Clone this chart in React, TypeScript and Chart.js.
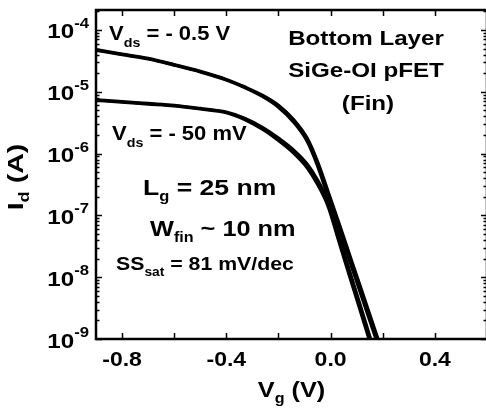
import { useEffect, useRef } from "react";
import { Chart, registerables } from "chart.js";

Chart.register(...registerables);

// ---- data ----
const gateVoltage = [-0.9, -0.8, -0.7, -0.6, -0.5, -0.4, -0.33, -0.26, -0.2, -0.14, -0.09, -0.05, -0.01, 0.03, 0.07, 0.11, 0.15, 0.19];
// Vds = -0.5 V, two sweeps
const idSatSweep1 = [4.68e-5, 3.98e-5, 3.39e-5, 2.69e-5, 2.09e-5, 1.55e-5, 1.17e-5, 8.32e-6, 5.62e-6, 3.16e-6, 1.58e-6, 6.31e-7, 2.0e-7, 6.31e-8, 2.0e-8, 6.31e-9, 2.0e-9, 6.31e-10];
const idSatSweep2 = [4.79e-5, 4.07e-5, 3.47e-5, 2.75e-5, 2.14e-5, 1.58e-5, 1.2e-5, 8.71e-6, 6.03e-6, 3.47e-6, 1.78e-6, 7.41e-7, 2.45e-7, 7.94e-8, 2.51e-8, 7.94e-9, 2.51e-9, 7.94e-10];
// Vds = -50 mV, two sweeps
const idLinSweep1 = [7.24e-6, 6.76e-6, 6.31e-6, 5.89e-6, 5.25e-6, 4.57e-6, 3.55e-6, 2.45e-6, 1.62e-6, 1.0e-6, 5.89e-7, 3.16e-7, 1.41e-7, 3.98e-8, 1.12e-8, 3.24e-9, 9.12e-10, 2.57e-10];
const idLinSweep2 = [7.41e-6, 6.92e-6, 6.46e-6, 6.03e-6, 5.37e-6, 4.68e-6, 3.72e-6, 2.63e-6, 1.78e-6, 1.12e-6, 6.76e-7, 3.72e-7, 1.7e-7, 4.9e-8, 1.38e-8, 3.98e-9, 1.12e-9, 3.16e-10];

const xTickValues = [-0.8, -0.6, -0.4, -0.2, 0.0, 0.2, 0.4];
const xLabelValues = [-0.8, -0.4, 0.0, 0.4];
const yDecadeExponents = [-9, -8, -7, -6, -5, -4];
const X_MIN = -0.9;
const X_MAX = 0.6;
const Y_MIN = 1e-9;
const Y_MAX = 2.1e-4;

const FONT = "'Liberation Sans', Arial, Helvetica, sans-serif";
const SX = 1.15;

type Seg = { t: string; size: number; dy: number };

function drawRich(
  ctx: CanvasRenderingContext2D,
  segs: Seg[],
  x: number,
  y: number,
  align: "left" | "center" | "right",
  sx: number = SX
) {
  let w = 0;
  const widths: number[] = [];
  for (const s of segs) {
    ctx.font = `bold ${s.size}px ${FONT}`;
    const m = ctx.measureText(s.t).width;
    widths.push(m);
    w += m;
  }
  const total = w * sx;
  const start = align === "left" ? x : align === "center" ? x - total / 2 : x - total;
  ctx.save();
  ctx.translate(start, y);
  ctx.scale(sx, 1);
  ctx.fillStyle = "#000";
  ctx.textAlign = "left";
  ctx.textBaseline = "alphabetic";
  let cx = 0;
  segs.forEach((s, i) => {
    ctx.font = `bold ${s.size}px ${FONT}`;
    ctx.fillText(s.t, cx, s.dy);
    cx += widths[i];
  });
  ctx.restore();
}

const framePlugin = {
  id: "framePlugin",
  afterDatasetsDraw(chart: any) {
    const ctx: CanvasRenderingContext2D = chart.ctx;
    const { left, right, top, bottom } = chart.chartArea;
    const xs = chart.scales.x;
    const ys = chart.scales.y;
    ctx.save();
    ctx.strokeStyle = "#000";
    ctx.lineCap = "butt";

    // ticks
    ctx.lineWidth = 1.5;
    for (const v of xTickValues) {
      const px = Math.round(xs.getPixelForValue(v)) + 0.5;
      ctx.beginPath();
      ctx.moveTo(px, bottom);
      ctx.lineTo(px, bottom - 6);
      ctx.moveTo(px, top);
      ctx.lineTo(px, top + 6);
      ctx.stroke();
    }
    for (let d = -10; d <= -4; d++) {
      for (let m = 1; m <= 9; m++) {
        const v = m * Math.pow(10, d);
        if (v < Y_MIN * 0.999 || v > Y_MAX) continue;
        const py = Math.round(ys.getPixelForValue(v)) + 0.5;
        const len = m === 1 ? 6 : 3.5;
        ctx.beginPath();
        ctx.moveTo(left, py);
        ctx.lineTo(left + len, py);
        ctx.moveTo(right, py);
        ctx.lineTo(right - len, py);
        ctx.stroke();
      }
    }

    // axis frame
    ctx.lineWidth = 2.5;
    ctx.beginPath();
    ctx.moveTo(left, top);
    ctx.lineTo(right, top);
    ctx.lineTo(right, bottom);
    ctx.lineTo(left, bottom);
    ctx.closePath();
    ctx.stroke();

    // x tick labels
    for (const v of xLabelValues) {
      const px = xs.getPixelForValue(v);
      drawRich(ctx, [{ t: v.toFixed(1), size: 20, dy: 0 }], px, 366, "center");
    }
    // y tick labels
    for (const e of yDecadeExponents) {
      const py = ys.getPixelForValue(Math.pow(10, e));
      drawRich(
        ctx,
        [
          { t: "10", size: 21, dy: 8.5 },
          { t: String(e), size: 14.5, dy: -2 },
        ],
        89,
        py,
        "right"
      );
    }

    // axis titles
    drawRich(
      ctx,
      [
        { t: "V", size: 22, dy: 0 },
        { t: "g", size: 14, dy: 6 },
        { t: " (V)", size: 22, dy: 0 },
      ],
      (left + right) / 2,
      397,
      "center"
    );
    ctx.save();
    ctx.translate(23, 177);
    ctx.rotate(-Math.PI / 2);
    drawRich(
      ctx,
      [
        { t: "I", size: 22, dy: 0 },
        { t: "d", size: 14, dy: 6 },
        { t: " (A)", size: 22, dy: 0 },
      ],
      0,
      0,
      "center",
      1.3
    );
    ctx.restore();

    // annotations
    drawRich(
      ctx,
      [
        { t: "V", size: 20, dy: 0 },
        { t: "ds", size: 13, dy: 7 },
        { t: " = - 0.5 V", size: 20, dy: 0 },
      ],
      109,
      40,
      "left",
      1.1
    );
    drawRich(
      ctx,
      [
        { t: "V", size: 20, dy: 0 },
        { t: "ds", size: 13, dy: 7 },
        { t: " = - 50 mV", size: 20, dy: 0 },
      ],
      112,
      140,
      "left",
      1.1
    );
    drawRich(ctx, [{ t: "Bottom Layer", size: 21, dy: 0 }], 366, 45, "center");
    drawRich(ctx, [{ t: "SiGe-OI pFET", size: 21, dy: 0 }], 366, 77, "center");
    drawRich(ctx, [{ t: "(Fin)", size: 21, dy: 0 }], 368, 110, "center");
    drawRich(
      ctx,
      [
        { t: "L", size: 22.5, dy: 0 },
        { t: "g", size: 14, dy: 6 },
        { t: " = 25 nm", size: 22.5, dy: 0 },
      ],
      143,
      195,
      "left",
      1.18
    );
    drawRich(
      ctx,
      [
        { t: "W", size: 22, dy: 0 },
        { t: "fin", size: 14, dy: 6 },
        { t: " ~ 10 nm", size: 22, dy: 0 },
      ],
      150,
      236,
      "left"
    );
    drawRich(
      ctx,
      [
        { t: "SS", size: 18.5, dy: 0 },
        { t: "sat", size: 12, dy: 6 },
        { t: " = 81 mV/dec", size: 18.5, dy: 0 },
      ],
      116,
      270,
      "left"
    );
    ctx.restore();
  },
};

function toPoints(ys: number[]) {
  return gateVoltage.map((x, i) => ({ x, y: ys[i] }));
}

export default function App() {
  const canvasRef = useRef<HTMLCanvasElement | null>(null);

  useEffect(() => {
    const canvas = canvasRef.current;
    if (!canvas) return;
    const series = [idSatSweep1, idSatSweep2, idLinSweep1, idLinSweep2];
    const chart = new Chart(canvas, {
      type: "line",
      data: {
        datasets: series.map((s, i) => ({
          label: ["Vds=-0.5V (1)", "Vds=-0.5V (2)", "Vds=-50mV (1)", "Vds=-50mV (2)"][i],
          data: toPoints(s),
          borderColor: "#000",
          backgroundColor: "#000",
          borderWidth: 3.2,
          pointRadius: 0,
          cubicInterpolationMode: "monotone" as const,
          fill: false,
        })),
      },
      options: {
        responsive: false,
        animation: false,
        devicePixelRatio: 1,
        layout: { padding: { top: 10, right: 5, left: 0, bottom: 0 } },
        plugins: { legend: { display: false }, tooltip: { enabled: false } },
        scales: {
          x: {
            type: "linear",
            min: X_MIN,
            max: X_MAX,
            ticks: { display: false },
            grid: { display: false },
            border: { display: false },
            afterFit: (s: any) => {
              s.height = 71;
            },
          },
          y: {
            type: "logarithmic",
            min: Y_MIN,
            max: Y_MAX,
            ticks: { display: false },
            grid: { display: false },
            border: { display: false },
            afterFit: (s: any) => {
              s.width = 96;
            },
          },
        },
      },
      plugins: [framePlugin],
    });
    return () => chart.destroy();
  }, []);

  return (
    <div
      style={{
        position: "fixed",
        left: 0,
        top: 0,
        width: 486,
        height: 410,
        overflow: "hidden",
        background: "#fff",
      }}
    >
      <canvas ref={canvasRef} width={492} height={410} style={{ width: 492, height: 410, display: "block" }} />
    </div>
  );
}
